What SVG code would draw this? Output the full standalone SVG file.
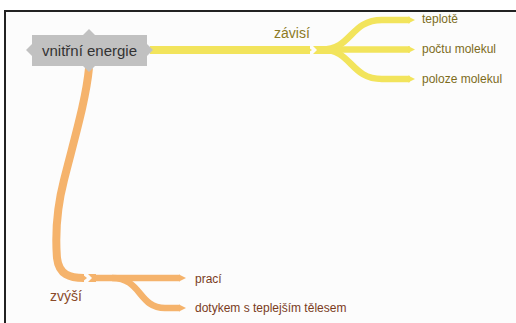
<svg xmlns="http://www.w3.org/2000/svg" width="516" height="323" viewBox="0 0 516 323">
<style>
.y{fill:none;stroke:#f2e45c;stroke-linecap:butt}
.o{fill:none;stroke:#f5b36c;stroke-linecap:butt}
.yf{fill:#f2e45c}
.of{fill:#f5b36c}
.lab{font-family:"Liberation Sans",Arial,sans-serif}
.yl{fill:#7d6c1c;font-size:12px}
.ol{fill:#7a3b1c;font-size:12px}
</style>
<rect x="0" y="0" width="516" height="323" fill="#ffffff"/>
<rect x="5" y="11" width="511" height="312" fill="#fcfcfc"/>
<path d="M5 323 V11 H516" fill="none" stroke="#222" stroke-width="2"/>
<g id="connectors">
<path class="y" stroke-width="8" d="M150 50 H310"/>
<polygon class="yf" points="306,46 312,50 306,54"/>
<path class="y" stroke-width="8" d="M318 50 H332"/>
<polygon class="yf" points="313,46 320,46 320,54 313,54 317,50"/>
<path class="y" stroke-width="6.5" d="M322 49.5 C352 49.5 350 20 382 20 H410"/>
<path class="y" stroke-width="6.5" d="M322 49.5 H410"/>
<path class="y" stroke-width="6.5" d="M322 49.5 C352 49.5 350 79 382 79 H410"/>
<polygon class="yf" points="408,16.5 415,20 408,23.5"/>
<polygon class="yf" points="408,46 415,49.5 408,53"/>
<polygon class="yf" points="408,75.5 415,79 408,82.5"/>
<path class="o" stroke-width="8" d="M89 68 C86 100 74 140 64 180 C55 215 56 245 57 258 C59 275 70 278 84 278"/>
<polygon class="of" points="82,274 87,278 82,282"/>
<polygon class="of" points="88,274 96,274 96,282 88,282 92,278"/>
<path class="o" stroke-width="6.5" d="M95 278 H180"/>
<path class="o" stroke-width="6.5" d="M112 278 C142 278 138 308 165 308 H180"/>
<polygon class="of" points="179,274.5 186,278 179,281.5"/>
<polygon class="of" points="179,304.5 186,308 179,311.5"/>
</g>
<g id="node-vnitrni-energie">
<rect x="32" y="35" width="115" height="31" fill="#c1c1c1"/>
<polygon points="26,50 33,43 33,57" fill="#c1c1c1"/>
<polygon points="146,43 153,50 146,57" fill="#c1c1c1"/>
<polygon points="82,36 89,29 96,36" fill="#c1c1c1"/>
<polygon points="82,65 89,72 96,65" fill="#c1c1c1"/>
<text class="lab" x="89.5" y="56" text-anchor="middle" font-size="15" fill="#333">vnitřní energie</text>
</g>
<g id="label-zavisi"><text class="lab" x="274" y="38" font-size="14" fill="#8c7a26">závisí</text></g>
<g id="node-teplote"><text class="lab yl" x="422" y="23">teplotě</text></g>
<g id="node-poctu"><text class="lab yl" x="422" y="53">počtu molekul</text></g>
<g id="node-poloze"><text class="lab yl" x="422" y="83">poloze molekul</text></g>
<g id="label-zvysi"><text class="lab" x="50" y="301" font-size="14" fill="#8a4a2a">zvýší</text></g>
<g id="node-praci"><text class="lab ol" x="195" y="283">prací</text></g>
<g id="node-dotykem"><text class="lab ol" x="195" y="312">dotykem s teplejším tělesem</text></g>
</svg>
